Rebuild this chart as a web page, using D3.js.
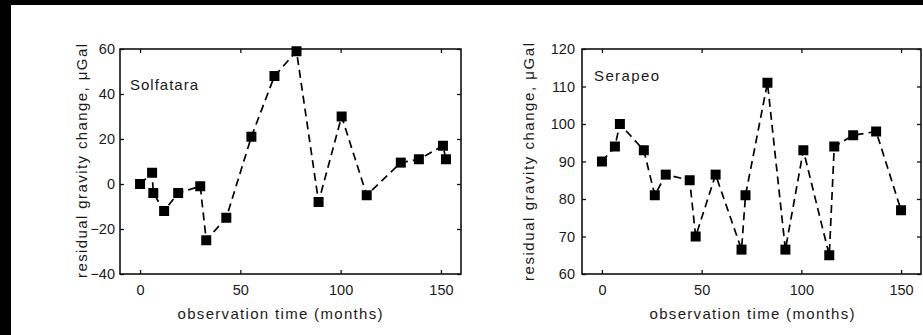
<!DOCTYPE html>
<html>
<head>
<meta charset="utf-8">
<script src="https://cdn.jsdelivr.net/npm/d3@7"></script>
<style>
  html, body { margin: 0; padding: 0; background: #fff; }
  svg { display: block; }
  text { font-family: "Liberation Sans", Arial, Helvetica, sans-serif; fill: #1a1a1a; }
</style>
</head>
<body>
<svg id="chart" width="923" height="335"></svg>
<script>
// ---- data ----
const solfataraMonths = [0, 6, 6.6, 12, 19, 30, 33, 43, 55.5, 67, 78, 89, 100.5, 113, 130, 139, 151, 152.5];
const solfataraValues = [0, 5, -4, -12, -4, -1, -25, -15, 21, 48, 59, -8, 30, -5, 9.5, 11, 17, 11];

const serapeoMonths = [0, 6.5, 9, 21, 26.5, 32, 44, 47, 57, 70, 72, 83, 92, 101, 114, 116.5, 126, 137.5, 150];
const serapeoValues = [90, 94, 100, 93, 81, 86.5, 85, 70, 86.5, 66.5, 81, 111, 66.5, 93, 65, 94, 97, 98, 77];

const xTicks = [0, 50, 100, 150];
const solfataraYTicks = [-40, -20, 0, 20, 40, 60];
const serapeoYTicks = [60, 70, 80, 90, 100, 110, 120];

const xLabel = "observation time (months)";
const yLabel = "residual gravity change,  \u03bcGal";

// ---- drawing ----
const svg = d3.select("#chart");
svg.append("rect").attr("x", 0).attr("y", 0).attr("width", 923).attr("height", 335).attr("fill", "#fff");
// black scan borders
svg.append("rect").attr("x", 0).attr("y", 0).attr("width", 923).attr("height", 5).attr("fill", "#000");
svg.append("rect").attr("x", 0).attr("y", 0).attr("width", 11).attr("height", 335).attr("fill", "#000");

function fmt(v) { return v < 0 ? "\u2212" + Math.abs(v) : String(v); }

function panel(cfg) {
  const x = d3.scaleLinear().domain([-10, 160]).range([cfg.left, cfg.right]);
  const y = d3.scaleLinear().domain(cfg.yDomain).range([274, 49]);
  const g = svg.append("g");

  const styleAxis = sel => {
    sel.select(".domain").remove();
    sel.selectAll(".tick line").attr("stroke", "#111").attr("stroke-width", 1.3);
    sel.selectAll("text").attr("font-size", 14.5).attr("fill", "#1a1a1a")
      .attr("font-family", '"Liberation Sans", Arial, sans-serif');
  };

  g.append("g").attr("transform", "translate(0,274)")
    .call(d3.axisBottom(x).tickValues(xTicks).tickSize(-4).tickPadding(11).tickFormat(d => d))
    .call(styleAxis);
  g.append("g").attr("transform", "translate(0,49)")
    .call(d3.axisTop(x).tickValues(xTicks).tickSize(-4).tickFormat(""))
    .call(styleAxis);
  g.append("g").attr("transform", `translate(${cfg.left},0)`)
    .call(d3.axisLeft(y).tickValues(cfg.yTicks).tickSize(-4).tickPadding(cfg.tickPad).tickFormat(fmt))
    .call(styleAxis);
  g.append("g").attr("transform", `translate(${cfg.right},0)`)
    .call(d3.axisRight(y).tickValues(cfg.yTicks).tickSize(-4).tickFormat(""))
    .call(styleAxis);

  // frame
  g.append("rect")
    .attr("x", cfg.left).attr("y", 49)
    .attr("width", cfg.right - cfg.left).attr("height", 225)
    .attr("fill", "none").attr("stroke", "#111").attr("stroke-width", 1.6);

  const pts = cfg.months.map((m, i) => [m, cfg.values[i]]);
  g.append("path")
    .attr("d", d3.line().x(d => x(d[0])).y(d => y(d[1]))(pts))
    .attr("fill", "none").attr("stroke", "#000").attr("stroke-width", 1.7)
    .attr("stroke-dasharray", "8,5");

  g.selectAll("path.mk").data(pts).enter().append("path")
    .attr("class", "mk")
    .attr("d", d3.symbol(d3.symbolSquare, 100)())
    .attr("transform", d => `translate(${x(d[0])},${y(d[1])})`)
    .attr("fill", "#000");

  g.append("text")
    .attr("x", cfg.nameX).attr("y", cfg.nameY)
    .attr("font-size", 15).attr("textLength", cfg.nameLen).attr("lengthAdjust", "spacing")
    .text(cfg.name);

  g.append("text")
    .attr("x", cfg.xLabX).attr("y", 319)
    .attr("text-anchor", "middle").attr("font-size", 15)
    .attr("textLength", 205).attr("lengthAdjust", "spacing")
    .text(xLabel);

  g.append("text")
    .attr("transform", `translate(${cfg.yLabX},${cfg.yLabY}) rotate(-90)`)
    .attr("text-anchor", "middle").attr("font-size", 15)
    .attr("textLength", cfg.yLabLen).attr("lengthAdjust", "spacing")
    .text(yLabel);
}

panel({
  left: 120, right: 461, yDomain: [-40, 60], yTicks: solfataraYTicks, tickPad: 5,
  months: solfataraMonths, values: solfataraValues,
  name: "Solfatara", nameX: 130, nameY: 90, nameLen: 68,
  xLabX: 280, yLabX: 87, yLabY: 161, yLabLen: 234
});
panel({
  left: 582, right: 921, yDomain: [60, 120], yTicks: serapeoYTicks, tickPad: 7,
  months: serapeoMonths, values: serapeoValues,
  name: "Serapeo", nameX: 594, nameY: 81, nameLen: 65,
  xLabX: 752, yLabX: 534, yLabY: 162, yLabLen: 238
});
</script>
</body>
</html>
